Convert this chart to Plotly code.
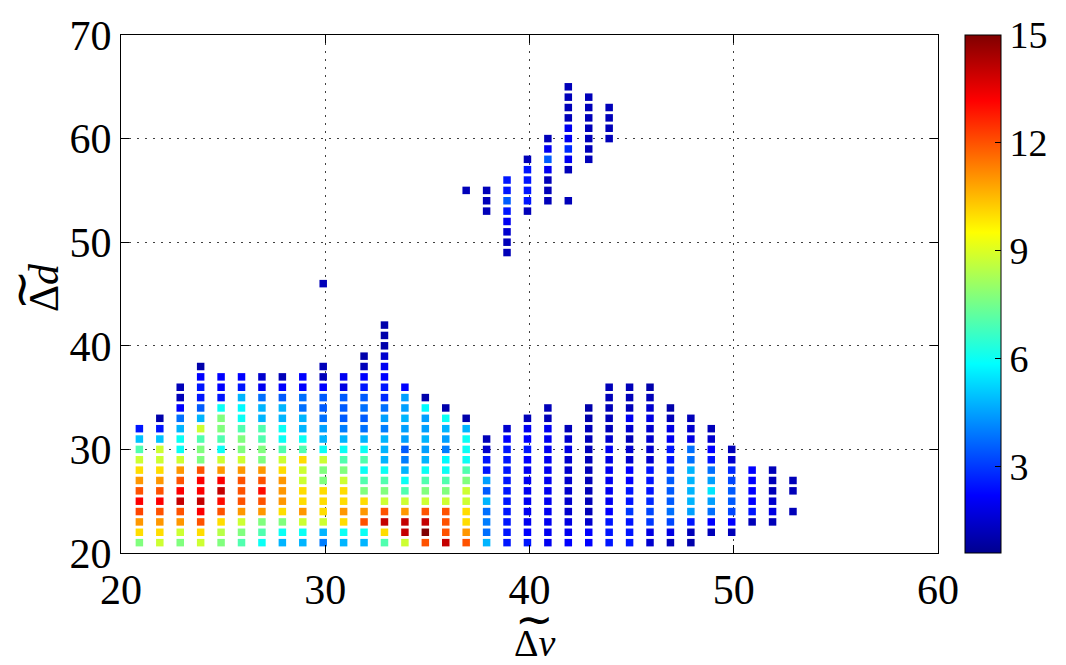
import plotly.graph_objects as go

# ---- data: columns of the binned scatter (x position, bottom row, colour values from bottom up; None = empty cell)
x_cols = [20.9, 21.9, 22.9, 23.9, 24.9, 25.9, 26.9, 27.9, 28.9, 29.9, 30.9, 31.9, 32.9, 33.9, 34.9,
          35.9, 36.9, 37.9, 38.9, 39.9, 40.9, 41.9, 42.9, 43.9, 44.9, 45.9, 46.9, 47.9, 48.9, 49.9,
          50.9, 51.9, 52.9]
y_bottom = [21] * 28 + [22, 22, 23, 23, 24]

c21 = [7.7, 10, 11, 12.2, 13.2, 12, 11, 10, 8.8, 7, 5, 2.5]
c22 = [8.8, 10, 11, 12, 13.2, 12, 11, 10, 8.8, 8.8, 5, 2.5, 1]
c23 = [7.7, 8.8, 11, 12, 14, 13.2, 12, 11, 8.8, 6, 6, 4.8, 3.8, 2.2, 1.2, 1.2]
c24 = [8.8, 10, 12, 13.2, 14, 13.2, 13.2, 12, 7.7, 7.7, 7, 8.8, 4.8, 3.5, 2.5, 2.5, 2.2, 1]
c25 = [7.7, 8.5, 10, 12, 13, 14, 13.2, 11, 8.8, 6, 7, 7.7, 7.7, 6, 2.5, 2.2, 2.2]
c26 = [7, 7.7, 8.8, 11, 12, 12, 12, 11, 8.8, 7.7, 7.7, 7, 6, 5.8, 4.8, 2.5, 2.2]
c27 = [6, 7, 7.7, 11, 12, 13, 12, 11, 7.7, 7.7, 7, 7, 4.8, 4.8, 3.8, 2, 1.5]
c28 = [4.8, 6, 7.7, 10, 11, 11, 11, 10, 8.8, 7, 6, 6, 4.8, 4.8, 3.5, 2.2, 1.2]
c29 = [4.8, 6, 8.8, 11, 10, 10, 8.8, 8.8, 10, 7, 6, 4.8, 4.8, 3.8, 3.8, 2.2, 2.2]
c30 = [4, 4.8, 8.8, 10, 10, 10, 7.7, 7.7, 8.8, 6, 4.8, 4.5, 3.8, 3.5, 3.5, 2.2, 1.2, 1.2,
       None, None, None, None, None, None, None, 1.2]
c31 = [4.8, 6, 10, 11, 10, 10, 8.8, 7.7, 7, 6, 4.8, 4, 3.5, 3.5, 3.5, 1.8, 2]
c32 = [4.8, 6, 12, 11, 10, 7.7, 7, 6, 7, 6, 4.8, 3.8, 3.5, 3.8, 3.5, 2.5, 2.2, 1.2, 1]
c33 = [7, 10, 14, 12, 8.8, 7.7, 7, 6, 4.8, 4.8, 4.8, 4, 4.5, 3.8, 2.8, 2.5, 2.2, 2, 1.5, 1, 1, 1]
c34 = [8.8, 14, 14, 11, 8.8, 7, 6, 4.8, 4, 3.5, 4.5, 4.5, 4.8, 4.5, 4.5, 2.2]
c35 = [12, 15, 14, 12, 8.8, 7.7, 7, 6, 4.8, 4.5, 4.8, 4.5, 4.5, 5.8, 1]
c36 = [14, 12, 12, 12, 8.8, 7.7, 7, 6, 5.8, 4, 4.5, 4.8, 6, 1]
c37 = [12, 11, 10, 10, 8.8, 8.8, 7.7, 7, 6, 6, 6, 4.8, 1]
c38 = [4.8, 3.8, 4, 3.8, 4.8, 3.5, 4.5, 2.5, 2.5, 1.5, 1.2]
c39 = [2.5, 2.5, 2.5, 2.5, 2.5, 2.5, 2.5, 2.5, 2.5, 2.5, 2.2, 1.5]
c40 = [2.5, 2.2, 2, 2, 2, 2, 2, 2, 2.2, 2.5, 2.2, 2, 1.2]
c41 = [2, 2, 2, 2, 2, 2, 2, 2, 2, 2, 2, 2, 1.2, 1.2]
c42 = [2.2, 2, 1.8, 1.5, 1.5, 1.5, 1.5, 1.5, 1.5, 1.8, 1.5, 1.2]
c43 = [2.2, 2.2, 1.5, 1.2, 1.2, 1.2, 1.2, 1.2, 1.2, 1.2, 1.2, 1.2, 1, 1]
c44 = [2.5, 2.5, 2.5, 2.2, 2, 2, 2, 2, 1.8, 2, 1.5, 1.2, 1.2, 1.2, 1.2, 1.2]
c45 = [2.5, 2.5, 2.5, 3, 2.5, 2.5, 2.2, 2.2, 1.5, 1.5, 1.2, 1.5, 2, 1.2, 1.2, 1.2]
c46 = [1.5, 1.8, 3, 3.2, 2.8, 2.5, 2.5, 2.5, 1.5, 1.5, 1.5, 1.5, 1.8, 1.5, 1.2, 1]
c47 = [1.2, 1.8, 3.2, 3.8, 3.5, 3.5, 3.5, 3, 2.5, 2.5, 2, 1.8, 1.2, 1]
c48 = [1, 1.2, 2.5, 4.5, 4.8, 4.8, 4.8, 4.8, 3.8, 3.8, 1.8, 1.5, 1.2]
c49 = [1.2, 2.2, 3.8, 4.5, 5.5, 4.5, 3.8, 2.5, 2.2, 1.5, 1.2]
c50 = [1.2, 2.2, 3.2, 3.5, 3.5, 3.2, 2.8, 1.5, 1.2]
c51 = [1.2, 2.5, 2.2, 2.2, 2.2, 2.2]
c52 = [1.2, 1.8, 1.5, 1.2, 1.2, 1.2]
c53 = [1.2, None, 1.2, 1.2]
lower_cols = [c21, c22, c23, c24, c25, c26, c27, c28, c29, c30, c31, c32, c33, c34, c35, c36, c37,
              c38, c39, c40, c41, c42, c43, c44, c45, c46, c47, c48, c49, c50, c51, c52, c53]

# upper cluster
x_up = [36.9, 37.9, 38.9, 39.9, 40.9, 41.9, 42.9, 43.9]
y_up_bottom = [55, 53, 49, 53, 54, 54, 58, 60]
u37 = [1.2]
u38 = [1.2, 1.2, 1.2]
u39 = [1.2, 1.2, 1.5, 2, 2.5, 3.5, 2.5, 2.5]
u40 = [1.2, 2.5, 2.5, 2.5, 2.5, 1.2]
u41 = [1.2, 1.2, 1.2, 2, 3.5, 2, 1.2]
u42 = [1.2, None, None, 1.2, 2, 2.8, 2, 2, 1.2, 1.2, 1.2, 1.2]
u43 = [1.2, 1.2, 1.2, 1.2, 1.2, 1.2, 1.2]
u44 = [1.2, 1.2, 1.2, 1.2]
upper_cols = [u37, u38, u39, u40, u41, u42, u43, u44]

x_ticks = [20, 30, 40, 50, 60]
y_ticks = [20, 30, 40, 50, 60, 70]
cbar_ticks = [3, 6, 9, 12, 15]

# ---- flatten
xs, ys, cs = [], [], []
for xc, y0, col in list(zip(x_cols, y_bottom, lower_cols)) + list(zip(x_up, y_up_bottom, upper_cols)):
    for i, v in enumerate(col):
        if v is None:
            continue
        xs.append(xc)
        ys.append(y0 + i)
        cs.append(v)

jet = [[0.0, 'rgb(0,0,143)'], [0.111, 'rgb(0,0,255)'], [0.365, 'rgb(0,255,255)'],
       [0.619, 'rgb(255,255,0)'], [0.873, 'rgb(255,0,0)'], [1.0, 'rgb(128,0,0)']]

FONT = "Liberation Serif"
TILDE_FONT = "DejaVu Sans"

W, H = 1066, 665
L, R, T, B = 121, 127, 35, 112
pw, ph = W - L - R, H - T - B

def px(xp):
    return (xp - L) / pw

def py(yp):
    return (H - B - yp) / ph

fig = go.Figure(go.Scatter(
    x=xs, y=ys, mode='markers',
    marker=dict(symbol='square', size=7.5, color=cs, colorscale=jet, cmin=0.6, cmax=15,
                line=dict(width=0),
                colorbar=dict(x=px(965), xanchor='left', y=0.5, yanchor='middle', len=1.0,
                              thickness=36, outlinecolor='black', outlinewidth=1,
                              tickvals=cbar_ticks, ticks='inside', ticklen=6, tickcolor='black',
                              tickfont=dict(family=FONT, size=38, color='black'),
                              xpad=0, ypad=0)),
    showlegend=False,
))

axis_common = dict(showline=True, linecolor='black', linewidth=1, mirror='allticks',
                   ticks='inside', ticklen=8, tickcolor='black',
                   showgrid=True, gridcolor='rgba(0,0,0,0.75)', griddash='2px,6px', gridwidth=1,
                   zeroline=False, tickfont=dict(family=FONT, size=42, color='black'))
fig.update_xaxes(range=[20, 60], tickvals=x_ticks, **axis_common)
fig.update_yaxes(range=[20, 70], tickvals=y_ticks, **axis_common)

fig.update_layout(
    width=W, height=H, margin=dict(l=L, r=R, t=T, b=B),
    paper_bgcolor='white', plot_bgcolor='white',
    annotations=[
        dict(text="Δ<i>v</i>", x=px(535), y=py(643), xref='paper', yref='paper',
             xanchor='center', yanchor='middle', showarrow=False,
             font=dict(family=FONT, size=38, color='black')),
        dict(text="∼", x=px(535), y=py(619), xref='paper', yref='paper',
             xanchor='center', yanchor='middle', showarrow=False,
             font=dict(family=TILDE_FONT, size=46, color='black')),
        dict(text="Δ<i>d</i>", x=px(44), y=py(288), xref='paper', yref='paper',
             xanchor='center', yanchor='middle', showarrow=False, textangle=-90,
             font=dict(family=FONT, size=42, color='black')),
        dict(text="∼", x=px(20), y=py(290), xref='paper', yref='paper',
             xanchor='center', yanchor='middle', showarrow=False, textangle=-90,
             font=dict(family=TILDE_FONT, size=48, color='black')),
    ],
)

fig.write_html("out.html")
